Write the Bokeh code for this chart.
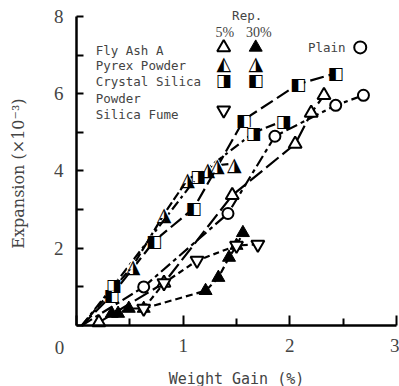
from bokeh.plotting import figure
from bokeh.models import Range1d, FixedTicker, Label, LinearAxis
from bokeh.core.properties import value
from bokeh.embed import file_html
from bokeh.resources import INLINE

# ---------------- data ----------------
# first element of the lines that start at the origin has no marker
plain_x = [0.05, 0.63, 1.42, 1.86, 2.43, 2.69]
plain_y = [0.00, 1.00, 2.90, 4.90, 5.70, 5.96]

fa5_x = [0.21, 0.82, 1.46, 2.05, 2.20, 2.32]
fa5_y = [0.08, 1.10, 3.37, 4.70, 5.50, 5.96]

fa30_x = [0.33, 0.39, 0.49, 0.63, 1.21, 1.33, 1.43, 1.50, 1.56]
fa30_y = [0.31, 0.31, 0.44, 0.44, 0.90, 1.24, 1.76, 2.07, 2.40]

pyrex_x = [0.05, 0.53, 0.82, 1.04, 1.23, 1.32, 1.48]
pyrex_y = [0.00, 1.55, 2.88, 3.78, 4.06, 4.15, 4.19]

cs30_x = [0.05, 0.33, 0.73, 1.10, 1.57, 2.08, 2.43]
cs30_y = [0.00, 0.78, 2.19, 3.04, 5.33, 6.25, 6.53]

cs5_x = [0.05, 0.35, 1.14, 1.66, 1.94]
cs5_y = [0.00, 1.04, 3.88, 4.99, 5.30]

sf_x = [0.63, 0.82, 1.13, 1.50, 1.70]
sf_y = [0.44, 1.10, 1.68, 2.07, 2.10]

x_ticks = [0, 1, 2, 3]
x_minor = [0.5, 1.5, 2.5]
y_ticks = [0, 2, 4, 6, 8]
y_minor = [1, 3, 5, 7]

legend_names = ["Fly Ash A", "Pyrex Powder", "Crystal Silica", "Powder", "Silica Fume"]

# ---------------- figure ----------------
# The frame covers the whole page; the axes are drawn at x=0 / y=0.
p = figure(width=399, height=386, x_range=Range1d(-0.7125, 3.028),
           y_range=Range1d(-1.579, 8.414), title=None,
           x_axis_location=None, y_axis_location=None,
           output_backend="svg", toolbar_location=None,
           min_border=0, min_border_left=0, min_border_right=0,
           min_border_top=0, min_border_bottom=0)
p.outline_line_color = None
p.grid.visible = False
p.background_fill_color = "white"
p.border_fill_color = "white"

serif = "Liberation Serif"
mono = "DejaVu Sans Mono"

xa = LinearAxis(fixed_location=0, bounds=(0, 3))
xa.ticker = FixedTicker(ticks=x_ticks, minor_ticks=x_minor)
xa.major_label_overrides = {0: ""}
xa.axis_line_width = 2.5
xa.major_tick_in = 10
xa.major_tick_out = 0
xa.minor_tick_in = 7
xa.minor_tick_out = 0
xa.major_tick_line_width = 2
xa.minor_tick_line_width = 2
xa.major_label_text_font = serif
xa.major_label_text_font_size = "19px"
xa.major_label_standoff = 13
xa.axis_label = "Weight Gain (%)"
xa.axis_label_text_font = mono
xa.axis_label_text_font_size = "15px"
xa.axis_label_text_font_style = "normal"
xa.axis_label_standoff = 15
p.add_layout(xa, "below")

ya = LinearAxis(fixed_location=0, bounds=(0, 8))
ya.ticker = FixedTicker(ticks=y_ticks, minor_ticks=y_minor)
ya.major_label_overrides = {0: ""}
ya.axis_line_width = 2.5
ya.major_tick_in = 7
ya.major_tick_out = 0
ya.minor_tick_in = 7
ya.minor_tick_out = 0
ya.major_tick_line_width = 2
ya.minor_tick_line_width = 2
ya.major_label_text_font = serif
ya.major_label_text_font_size = "19px"
ya.major_label_standoff = 13
ya.axis_label = "Expansion  (×10⁻³)"
ya.axis_label_text_font = "DejaVu Serif"
ya.axis_label_text_font_size = "16px"
ya.axis_label_text_font_style = "normal"
ya.axis_label_standoff = 23
p.add_layout(ya, "left")

p.add_layout(Label(x=-0.16, y=-0.57, text="0", text_align="center", text_baseline="middle",
                   text_font=serif, text_font_size="19px"))

# ---------------- lines ----------------
lw = 2.2
p.line(plain_x, plain_y, line_width=lw, color="black", line_dash="12 4 4 4")
p.line(fa5_x, fa5_y, line_width=lw, color="black", line_dash="16 5")
p.line(fa30_x, fa30_y, line_width=lw, color="black", line_dash="7 4")
p.line(pyrex_x, pyrex_y, line_width=lw, color="black", line_dash="9 3")
p.line(cs30_x, cs30_y, line_width=lw, color="black", line_dash="14 5")
p.line(cs5_x, cs5_y, line_width=lw, color="black", line_dash="10 4 3 4")
p.line(sf_x, sf_y, line_width=lw, color="black", line_dash="6 4")

# ---------------- markers ----------------
def half_marker(xs, ys, glyph_char, base_marker, size, fsize):
    p.scatter(xs, ys, marker=base_marker, size=size, fill_color="white", line_color=None)
    p.text(xs, ys, text=[glyph_char] * len(xs), text_font=value("DejaVu Sans"),
           text_font_size=value(fsize), text_align="center", text_baseline="middle",
           text_color="black")

p.scatter(plain_x[1:], plain_y[1:], marker="circle", size=11, fill_color="white",
          line_color="black", line_width=2)
p.scatter(fa5_x, fa5_y, marker="triangle", size=13, fill_color="white",
          line_color="black", line_width=2)
p.scatter(fa30_x, fa30_y, marker="triangle", size=13, fill_color="black",
          line_color="black", line_width=1)
p.scatter(sf_x, sf_y, marker="inverted_triangle", size=13, fill_color="white",
          line_color="black", line_width=2)
half_marker(pyrex_x[1:], pyrex_y[1:], "◮", "triangle", 13, "19px")
half_marker(cs30_x[1:], cs30_y[1:], "◧", "square", 11, "17px")
half_marker(cs5_x[1:], cs5_y[1:], "◨", "square", 11, "17px")

# ---------------- legend (manual, as in the original) ----------------
row_y = [7.12, 6.74, 6.32, 5.88, 5.47]
for name, yy in zip(legend_names, row_y):
    p.add_layout(Label(x=0.18, y=yy, text=name, text_font=mono, text_font_size="12.5px",
                       text_baseline="middle", text_align="left"))
p.add_layout(Label(x=1.6, y=8.03, text="Rep.", text_font=mono, text_font_size="12.5px",
                   text_baseline="middle", text_align="center"))
p.add_layout(Label(x=1.39, y=7.59, text="5%", text_font=serif, text_font_size="14px",
                   text_baseline="middle", text_align="center"))
p.add_layout(Label(x=1.71, y=7.59, text="30%", text_font=serif, text_font_size="14px",
                   text_baseline="middle", text_align="center"))
p.add_layout(Label(x=2.17, y=7.2, text="Plain", text_font=mono, text_font_size="12.5px",
                   text_baseline="middle", text_align="left"))

lx5, lx30 = 1.38, 1.68
p.scatter([lx5], [7.2], marker="triangle", size=13, fill_color="white", line_color="black", line_width=2)
p.scatter([lx30], [7.2], marker="triangle", size=13, fill_color="black", line_color="black")
half_marker([lx5], [6.79], "◭", "triangle", 13, "19px")
half_marker([lx30], [6.79], "◮", "triangle", 13, "19px")
half_marker([lx5], [6.35], "◨", "square", 11, "17px")
half_marker([lx30], [6.35], "◧", "square", 11, "17px")
p.scatter([lx5], [5.57], marker="inverted_triangle", size=13, fill_color="white",
          line_color="black", line_width=2)
p.scatter([2.66], [7.2], marker="circle", size=12, fill_color="white", line_color="black", line_width=2)

open("out.html", "w").write(file_html(p, INLINE))
